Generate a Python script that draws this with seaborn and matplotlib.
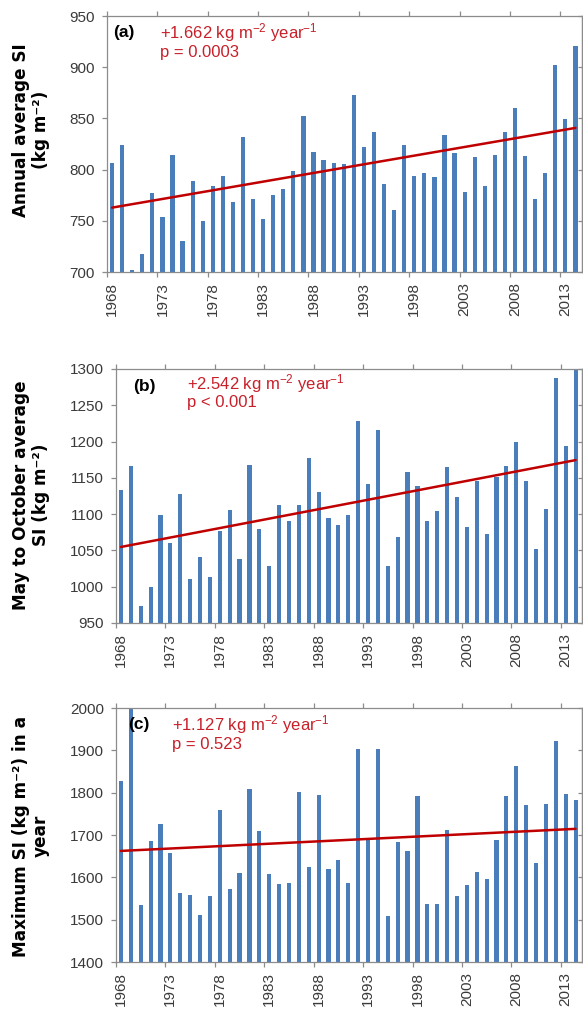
import numpy as np
import matplotlib
matplotlib.use("Agg")
import matplotlib.pyplot as plt
import seaborn as sns
from matplotlib.ticker import FixedLocator

years = list(range(1968, 2015))

annual = [806, 824, 702, 718, 777, 754, 814, 730, 789, 750, 784, 794, 768, 832,
          771, 752, 775, 781, 799, 852, 817, 809, 806,
          805, 873, 822, 837, 786, 761, 824, 794, 797, 793, 834, 816, 778, 812,
          784, 814, 837, 860, 813, 771, 797, 902, 849, 921]

may_oct = [1133, 1167, 974, 999, 1099, 1060, 1128, 1011, 1041, 1013, 1077, 1106,
           1038, 1168, 1079, 1029, 1112, 1090, 1112, 1177, 1131, 1095, 1085,
           1099, 1228, 1141, 1216, 1029, 1068, 1158, 1139, 1090, 1104, 1165, 1124,
           1082, 1145, 1073, 1151, 1167, 1199, 1145, 1052, 1107, 1287, 1194, 1300]

maximum = [1828, 2135, 1535, 1686, 1727, 1658, 1564, 1558, 1511, 1555, 1758, 1572,
           1610, 1808, 1709, 1607, 1584, 1587, 1802, 1625, 1794, 1620, 1642,
           1587, 1904, 1689, 1904, 1509, 1683, 1663, 1793, 1537, 1537, 1712, 1555,
           1581, 1613, 1595, 1688, 1793, 1863, 1770, 1633, 1773, 1921, 1798, 1782]

panel_letters = ["(a)", "(b)", "(c)"]
slope_texts = [r"+1.662 kg m$^{-2}$ year$^{-1}$",
               r"+2.542 kg m$^{-2}$ year$^{-1}$",
               r"+1.127 kg m$^{-2}$ year$^{-1}$"]
p_texts = ["p = 0.0003", "p < 0.001", "p = 0.523"]
ylabels = ["Annual average SI\n(kg m\u207b\u00b2)",
           "May to October average\nSI (kg m\u207b\u00b2)",
           "Maximum SI (kg m\u207b\u00b2) in a\nyear"]
y_ticks = [list(range(700, 951, 50)), list(range(950, 1301, 50)), list(range(1400, 2001, 100))]

sns.set_style("ticks")
plt.rcParams["font.family"] = ["Liberation Sans", "DejaVu Sans"]
plt.rcParams["mathtext.fontset"] = "custom"
plt.rcParams["mathtext.rm"] = "Liberation Sans"
plt.rcParams["mathtext.it"] = "Liberation Sans:italic"
plt.rcParams["mathtext.bf"] = "Liberation Sans:bold"

BAR = "#4A7EBB"
LINE = "#C00000"
TXT = "#C8202A"
GRAY = "#8C8C8C"
TICKTXT = "#3a3a3a"

W, H = 583, 1010
fig = plt.figure(figsize=(W / 100, H / 100), dpi=100)

# pixel boxes: left, top, right, bottom
boxes = [(107, 16, 582, 272), (116, 369, 582, 623), (116, 708, 582, 962)]
ylabel_pos = [(31, 130), (31, 495), (31, 836)]
letter_pos = [(113, 33), (133, 386), (128, 725)]
slope_pos = [(160, 33), (187, 384), (172, 725)]
p_pos = [(160, 53), (187, 402), (172, 745)]

series = [annual, may_oct, maximum]
x_idx = np.arange(len(years))

for k in range(3):
    l, t, r, b = boxes[k]
    ax = fig.add_axes([l / W, 1 - b / H, (r - l) / W, (b - t) / H])
    vals = series[k]
    sns.barplot(x=years, y=vals, color=BAR, saturation=1, width=0.42,
                errorbar=None, linewidth=0, ax=ax)
    sns.regplot(x=x_idx, y=np.array(vals, dtype=float), scatter=False, ci=None,
                color=LINE, line_kws=dict(lw=1.8), ax=ax)
    ax.set_xlim(-0.5, 46.65)
    ax.set_ylim(y_ticks[k][0], y_ticks[k][-1])

    # x ticks: labels centred on categories, tick marks between categories
    ax.set_xticks(x_idx[::5])
    ax.set_xticklabels([str(years[i]) for i in x_idx[::5]], rotation=90,
                       fontsize=11, color=TICKTXT)
    ax.xaxis.set_minor_locator(FixedLocator(np.arange(-0.5, 47, 5)))
    ax.tick_params(axis="x", which="major", length=0, pad=7.5)
    ax.tick_params(axis="x", which="minor", length=3.6, width=0.9, color=GRAY,
                   direction="out", bottom=True, top=True)

    ax.set_yticks(y_ticks[k])
    ax.set_yticklabels([str(v) for v in y_ticks[k]], fontsize=11, color=TICKTXT)
    ax.tick_params(axis="y", which="major", length=3.6, width=0.9, color=GRAY,
                   direction="out", left=True, right=False, pad=5)

    sec = ax.secondary_yaxis("right")
    sec.set_yticks(y_ticks[k])
    sec.tick_params(axis="y", direction="in", length=3, width=0.9, color=GRAY,
                    labelright=False)
    sec.spines["right"].set_color(GRAY)
    sec.spines["right"].set_linewidth(0.9)

    for s in ax.spines.values():
        s.set_visible(True)
        s.set_color(GRAY)
        s.set_linewidth(0.9)

    ax.set_xlabel("")
    lx, ly = ylabel_pos[k]
    ax.set_ylabel(ylabels[k], fontsize=12.2, fontweight="bold", color="black",
                  family="DejaVu Sans",
                  ha="center", va="center", multialignment="center",
                  linespacing=1.15)
    ax.yaxis.set_label_coords((lx - l) / (r - l), (b - ly) / (b - t))

    def axpos(px, py):
        return (px - l) / (r - l), (b - py) / (b - t)

    ax.text(*axpos(*letter_pos[k]), panel_letters[k], transform=ax.transAxes,
            fontsize=12.5, fontweight="bold", color="black", ha="left", va="center")
    ax.text(*axpos(*slope_pos[k]), slope_texts[k], transform=ax.transAxes,
            fontsize=12, color=TXT, ha="left", va="center")
    ax.text(*axpos(*p_pos[k]), p_texts[k], transform=ax.transAxes,
            fontsize=12, color=TXT, ha="left", va="center")

fig.savefig("out.png", dpi=100, facecolor="white")
